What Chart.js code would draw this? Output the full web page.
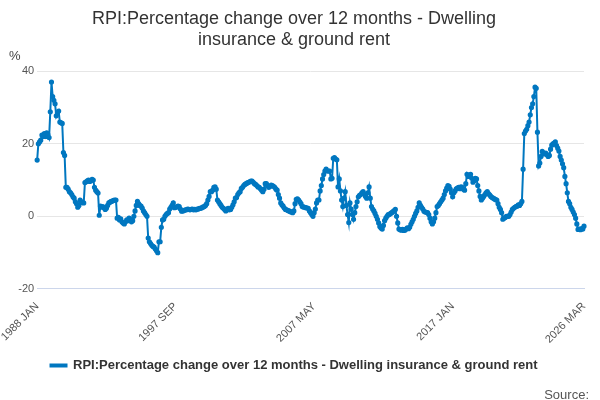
<!DOCTYPE html>
<html>
<head>
<meta charset="utf-8">
<script src="https://cdn.jsdelivr.net/npm/chart.js@4"></script>
<style>
  html, body { margin: 0; padding: 0; background: #fff; }
  #wrap { width: 600px; height: 400px; }
</style>
</head>
<body>
<div id="wrap"><canvas id="rpi"></canvas></div>
<script>
const startYear = 1988;
const shownTicks = ["1988 JAN", "1997 SEP", "2007 MAY", "2017 JAN", "2026 MAR"];
const seriesName = "RPI:Percentage change over 12 months - Dwelling insurance & ground rent";

// monthly values, one row per year from 1988
const values = [
    15.5, 20, 20.5, 21, 22.4, 22, 22.8, 22, 23, 22.5, 21.7, 28.8,
    37, 33, 32, 31, 27.7, 28.5, 29, 26, 25.8, 25.6, 17.6, 16.8,
    8, 8, 7.5, 6.8, 6.5, 6, 5.4, 5, 4, 3.5, 2.5, 3,
    4.5, 4, 3.8, 3.7, 9.3, 9.5, 9.8, 10, 9.6, 9.8, 10.2, 10,
    8, 7.2, 6.8, 6.4, 0.3, 2.8, 2.5, 2.7, 2.4, 1.9, 2.2, 3,
    3.7, 3.9, 4.1, 4.2, 4.4, 4.5, 4.5, -0.5, -0.3, -1, -0.7, -1.5,
    -1.8, -2.1, -1.5, -1, -1.2, -0.5, -0.8, -1.5, -1.2, 0, 1.5, 3,
    4.1, 3.5, 3, 2.8, 2.3, 1.5, 1, 0.5, 0, -6, -7, -7.5,
    -8, -8.3, -8.5, -9, -9.5, -10, -7, -7, -3, -1, -0.8, 0,
    0.5, 0.8, 1, 2, 2.5, 3, 3.7, 2.4, 2.5, 2.6, 2.8, 2.7,
    2, 1.4, 1.5, 1.6, 1.8, 1.8, 2, 1.9, 1.8, 1.9, 2, 1.8,
    1.9, 1.8, 2, 2, 2.2, 2.2, 2.4, 2.6, 2.7, 3, 3.5, 4.5,
    5.5, 6.8, 6.8, 7.2, 8, 8.1, 7.5, 4.5, 4, 3.5, 3, 2.5,
    2.2, 1.9, 1.5, 2, 2.2, 1.8, 1.9, 2.5, 3.2, 4, 5, 5.2,
    6, 6.5, 6.8, 7.7, 8, 8.5, 8.8, 9, 9.2, 9.4, 9.5, 9.7,
    9.7, 9.4, 9, 8.8, 8.5, 8.1, 8, 7.6, 7.2, 6.8, 7.5, 9,
    9, 8.5, 8, 8.2, 8.6, 8.5, 8.3, 8, 7.5, 7.2, 6, 5,
    3.7, 3.2, 2.8, 2.3, 1.9, 1.8, 1.6, 1.5, 1.3, 1.2, 1, 1.5,
    3.5, 4.7, 4.8, 4.5, 4, 3.5, 2.7, 2.6, 2.5, 2.4, 2.3, 2.2,
    1.5, 1, 0.5, 0, 1, 2, 3.7, 4.5, 4.5, 7, 8.5, 10.3,
    11.5, 12.5, 13, 12.5, 12.5, 12.5, 10.3, 10.5, 16, 16.2, 15.8, 15.6,
    8.1, 10.3, 7, 4.5, 2.7, 5, 6.8, 3, 0.5, -1.7, 3.7, 2,
    0.5, -0.8, 1, 2.7, 4, 5.4, 5.8, 6, 6.5, 6.8, 6.2, 5.5,
    5, 6.5, 8.1, 5, 2.7, 2, 1.5, 0.8, 0, -0.8, -1.8, -2.8,
    -3.2, -3.5, -2.5, -1.2, -0.5, 0, 0.5, 0.5, 0.8, 1, 1.3, 1.6,
    1.9, 0, -1.8, -3.5, -3.7, -3.8, -3.6, -3.9, -3.8, -3.5, -3.2, -3.4,
    -3, -2.2, -1.5, -0.8, 0, 0.8, 1.5, 2.5, 3.7, 3, 2.5, 2,
    1.4, 1.2, 1.1, 1, 0.5, -0.5, -1.5, -2.1, -1.5, -0.5, 1, 2.7,
    3, 3.5, 4, 4.5, 5, 6, 7, 7.8, 8.5, 8.3, 7.5, 6.5,
    5.4, 6.5, 7, 7.6, 7.8, 8, 7.6, 8.1, 8, 7.5, 7.2, 9,
    11.6, 11, 11.2, 11.6, 10.5, 9.4, 9.8, 10.5, 10.3, 8.5, 7, 5.5,
    4.5, 5, 5.5, 6, 6.5, 6.8, 6.3, 5.9, 5.5, 5.2, 5, 4.8,
    4.6, 4.5, 3.5, 2.5, 1.9, 1, -0.8, -0.5, -0.3, 0, 0, 0,
    0.5, 1.2, 1.9, 2.2, 2.5, 2.7, 2.8, 3.2, 3, 3.5, 4.1, 13,
    22.8, 23.5, 24, 25, 26, 28, 30, 31, 33, 35.6, 35.3, 23.2,
    13.9, 14.7, 16.5, 17.9, 17.5, 17.2, 17.4, 17, 16.5, 16.8, 18.5, 19.6,
    20, 20.2, 20.5, 19.5, 18.8, 18, 16.5, 15.5, 14.5, 13.4, 11, 9,
    6.5, 4.1, 3.5, 2.5, 1.9, 1.2, 0.5, -0.5, -2.1, -3.6, -3.5, -3.7,
    -3.4, -3.5, -2.7
];

const monthNames = ["JAN", "FEB", "MAR", "APR", "MAY", "JUN", "JUL", "AUG", "SEP", "OCT", "NOV", "DEC"];
const labels = values.map((v, i) => (startYear + Math.floor(i / 12)) + " " + monthNames[i % 12]);

const blue = "rgb(0, 119, 192)";

// "%" above the y axis and the "Source:" note
const extraText = {
    id: "extraText",
    afterDraw(chart) {
        const c = chart.ctx;
        c.save();
        c.fillStyle = "#444";
        c.font = "13px 'Liberation Sans', Arial, sans-serif";
        c.textAlign = "left";
        c.fillText("%", 9, 56);
        c.fillStyle = "#555";
        c.textAlign = "right";
        c.fillText("Source:", 589, 395);
        c.restore();
    }
};

new Chart(document.getElementById("rpi"), {
    type: "line",
    data: {
        labels: labels,
        datasets: [{
            label: seriesName,
            data: values,
            borderColor: blue,
            backgroundColor: blue,
            borderWidth: 2,
            pointRadius: 1.6,
            pointHoverRadius: 3,
            tension: 0
        }]
    },
    options: {
        responsive: true,
        maintainAspectRatio: false,
        animation: false,
        layout: { padding: { left: 4, right: 16, top: 0, bottom: 18 } },
        scales: {
            x: {
                grid: { display: false, drawTicks: true },
                border: { color: "#ccd6eb" },
                ticks: {
                    autoSkip: false,
                    maxRotation: 45,
                    minRotation: 45,
                    color: "#555",
                    font: { size: 11, family: "'Liberation Sans', Arial, sans-serif" },
                    callback: function (val) {
                        const l = this.getLabelForValue(val);
                        return shownTicks.includes(l) ? l : null;
                    }
                }
            },
            y: {
                min: -20,
                max: 40,
                ticks: {
                    stepSize: 20,
                    color: "#555",
                    font: { size: 11, family: "'Liberation Sans', Arial, sans-serif" }
                },
                grid: { color: "#e6e6e6", drawTicks: false },
                border: { display: false }
            }
        },
        plugins: {
            title: {
                display: true,
                text: ["RPI:Percentage change over 12 months - Dwelling", "insurance & ground rent"],
                color: "#333",
                font: { size: 18, weight: "normal", family: "'Liberation Sans', Arial, sans-serif" },
                padding: { top: 8, bottom: 20 }
            },
            legend: {
                position: "bottom",
                labels: {
                    color: "#333",
                    font: { size: 13, weight: "bold", family: "'Liberation Sans', Arial, sans-serif" },
                    usePointStyle: false,
                    boxWidth: 16,
                    boxHeight: 2
                }
            },
            tooltip: { enabled: true }
        }
    },
    plugins: [extraText]
});
</script>
</body>
</html>
